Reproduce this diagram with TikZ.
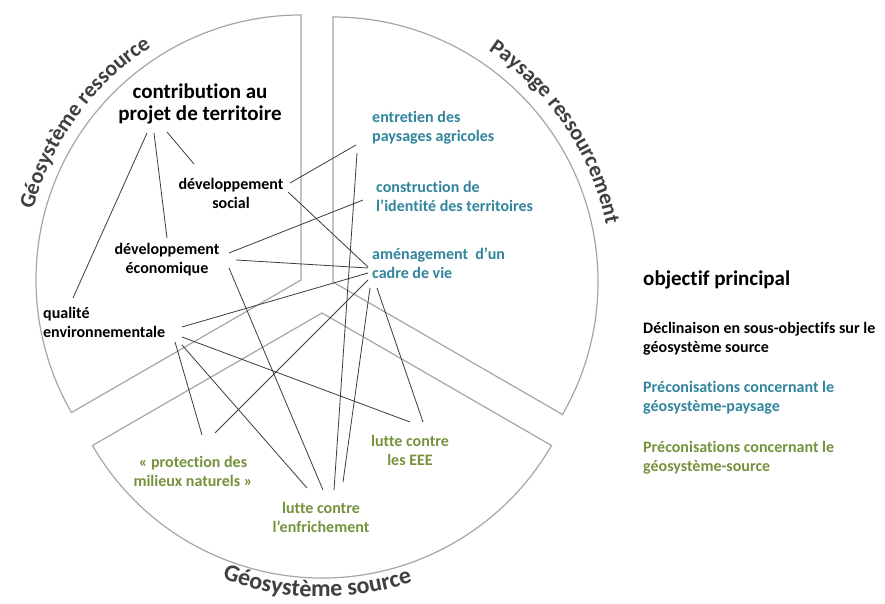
\documentclass[tikz,border=0pt]{standalone}
\usepackage{fontspec}
\setmainfont{Carlito}[Ligatures=NoCommon]
\usetikzlibrary{decorations.text,calc}
\definecolor{tealtxt}{HTML}{31859C}
\definecolor{olivetxt}{HTML}{76923C}
\definecolor{sectgray}{HTML}{A6A6A6}
\definecolor{linkgray}{HTML}{3C3C3C}
\definecolor{titlegray}{HTML}{404040}
\newcommand\arcfont{\fontsize{22}{22}\selectfont\bfseries}
\newcommand\arcfontbig{\fontsize{24}{24}\selectfont\bfseries}
\begin{document}
\begin{tikzpicture}[x=1pt,y=1pt,
  sector/.style={draw=sectgray,line width=1.2pt},
  link/.style={draw=linkgray,line width=0.8pt},
  big/.style={font=\fontsize{21}{22}\selectfont\bfseries, align=center, inner sep=0pt},
  lab/.style={font=\fontsize{16}{19}\selectfont\bfseries, inner sep=0pt},
  labc/.style={lab, align=center},
  labl/.style={lab, align=left, anchor=west},
  pay/.style={labl, text=tealtxt},
  src/.style={labc, text=olivetxt},
  arctitle/.style={decorate, decoration={text along path, text align=center, text color=titlegray, text={|\arcfont|#1}}},
  arctitlebig/.style={decorate, decoration={text along path, text align=center, text color=titlegray, text={|\arcfontbig|#1}}}
]
\useasboundingbox (0,0) rectangle (885,604);
\fill[white] (0,0) rectangle (885,604);

\coordinate (C1) at (301,324);
\coordinate (C2) at (333,322);
\coordinate (C3) at (322,291);

\draw[sector] (C1) -- ++(0,265) arc[start angle=90,end angle=210,radius=265] -- cycle;
\draw[sector] (C2) -- ++(0,265) arc[start angle=90,end angle=-30,radius=265] -- cycle;
\draw[sector] (C3) -- ++(210:265) arc[start angle=210,end angle=330,radius=265] -- cycle;

\path[arctitle={Géosystème ressource}] ([shift={(168:277)}]C1) arc[start angle=168,end angle=120,radius=277];
\path[arctitle={Paysage ressourcement}] ([shift={(60:279)}]C2) arc[start angle=60,end angle=8,radius=279];
\path[arctitlebig={Géosystème source}] ([shift={(245:284)}]C3) arc[start angle=245,end angle=293,radius=284];

\node[big] (contrib) at (200,500) {contribution au\\projet de territoire};
\node[labc] (dsoc) at (231,411) {développement\\social};
\node[labc] (deco) at (167,344) {développement\\économique};
\node[labl] (qual) at (43,282) {qualité\\environnementale};
\node[pay] (entr) at (372,476) {entretien des\\paysages agricoles};
\node[pay] (constr) at (376,408) {construction de\\l’identité des territoires};
\node[pay] (amen) at (372,341) {aménagement~ d’un\\cadre de vie};
\node[src] (prot) at (193,133) {« protection des\\milieux naturels »};
\node[src] (enfr) at (321,87) {lutte contre\\l’enfrichement};
\node[src] (eee) at (410,154) {lutte contre\\les EEE};

\node[anchor=west, inner sep=0pt, font=\fontsize{21}{22}\selectfont\bfseries] (obj) at (643,324) {objectif principal};
\node[labl] (decl) at (643,265) {Déclinaison en sous-objectifs sur le\\géosystème source};
\node[labl, text=tealtxt] (lpay) at (643,206) {Préconisations concernant le\\géosystème-paysage};
\node[labl, text=olivetxt] (lsrc) at (643,146) {Préconisations concernant le\\géosystème-source};

\draw[link] ([shift={(-33,-28)}]contrib.center) -- ([shift={(-37,29)}]dsoc.center);
\draw[link] ([shift={(-46,-29)}]contrib.center) -- ([shift={(0,22)}]deco.center);
\draw[link] ([shift={(-53,-29)}]contrib.center) -- ([shift={(30,24)}]qual.west);
\draw[link] ([shift={(59,10)}]dsoc.center) -- ([shift={(-16,-17)}]entr.west);
\draw[link] ([shift={(57,1)}]dsoc.center) -- ([shift={(-4,-4)}]amen.west);
\draw[link] ([shift={(62,7)}]deco.center) -- ([shift={(-13,-4)}]constr.west);
\draw[link] ([shift={(69,0)}]deco.center) -- ([shift={(-4,-5)}]amen.west);
\draw[link] ([shift={(62,-8)}]deco.center) -- ([shift={(2,27)}]enfr.center);
\draw[link] ([shift={(139,-5)}]qual.west) -- ([shift={(-4,-10)}]amen.west);
\draw[link] ([shift={(139,-15)}]qual.west) -- ([shift={(0,28)}]eee.center);
\draw[link] ([shift={(132,-20)}]qual.west) -- ([shift={(9,36)}]prot.center);
\draw[link] ([shift={(139,-23)}]qual.west) -- ([shift={(-14,29)}]enfr.center);
\draw[link] ([shift={(-15,-25)}]entr.west) -- ([shift={(13,27)}]enfr.center);
\draw[link] ([shift={(-4,-17)}]amen.west) -- ([shift={(22,38)}]prot.center);
\draw[link] ([shift={(-2,-25)}]amen.west) -- ([shift={(22,35)}]enfr.center);
\draw[link] ([shift={(5,-25)}]amen.west) -- ([shift={(13,28)}]eee.center);
\end{tikzpicture}
\end{document}
